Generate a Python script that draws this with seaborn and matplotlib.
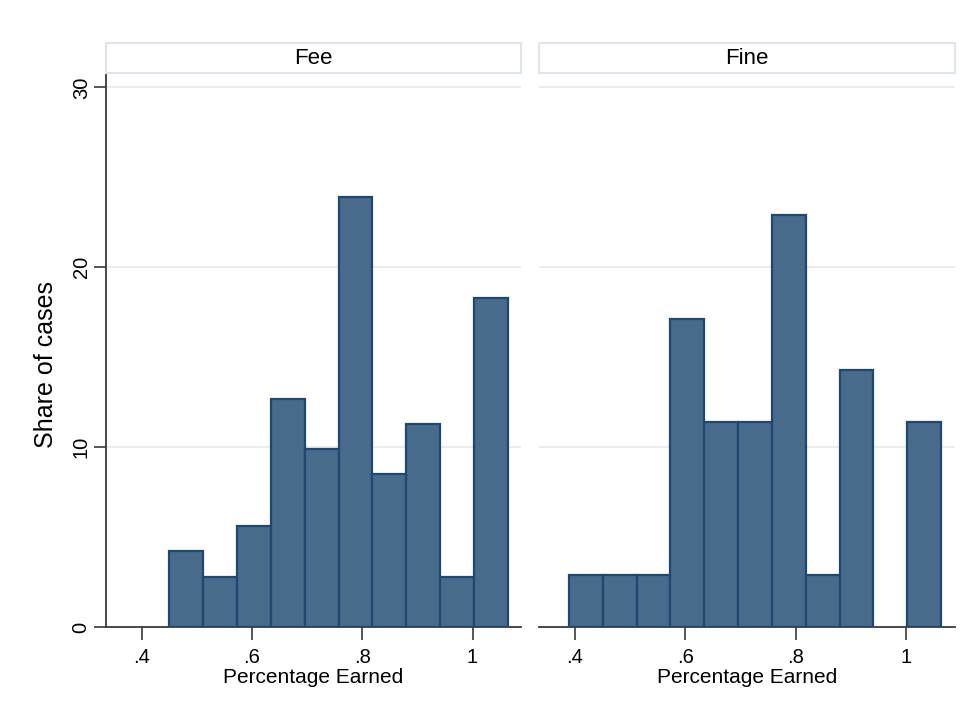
import numpy as np
import pandas as pd
import seaborn as sns
import matplotlib.pyplot as plt
from matplotlib.patches import Rectangle

# Histogram data (percent of cases per bin)
panels = ["Fee", "Fine"]
fee_range = (0.45, 1.064)
fee_pct = [4.2, 2.8, 5.6, 12.7, 9.9, 23.9, 8.5, 11.3, 2.8, 18.3]
fine_range = (0.389, 1.063)
fine_pct = [2.9, 2.9, 2.9, 17.1, 11.4, 11.4, 22.9, 2.9, 14.3, 0.0, 11.4]
xticks = [0.4, 0.6, 0.8, 1.0]
xtick_labels = [".4", ".6", ".8", "1"]
yticks = [0, 10, 20, 30]

sns.set_style("white")
plt.rcParams['font.family'] = ['Liberation Sans', 'DejaVu Sans']
plt.rcParams['text.color'] = 'black'
plt.rcParams['axes.labelcolor'] = 'black'

W, H = 976, 721
fig = plt.figure(figsize=(W / 100, H / 100), dpi=100)

fill = "#486a8b"
edge = "#1f4870"
axis_col = "#3a3a3a"
grid_col = "#e4ebec"


def px_axes(x0, x1, y0, y1):
    return fig.add_axes([x0 / W, 1 - y1 / H, (x1 - x0) / W, (y1 - y0) / H])


axes = [px_axes(106, 521, 73, 627), px_axes(539, 955, 73, 627)]
data = [(fee_range, fee_pct), (fine_range, fine_pct)]

for i, (ax, name, (rng, pct)) in enumerate(zip(axes, panels, data)):
    edges = np.linspace(rng[0], rng[1], len(pct) + 1)
    df = pd.DataFrame({"center": (edges[:-1] + edges[1:]) / 2, "pct": pct})
    sns.histplot(data=df, x="center", weights="pct", bins=list(edges), ax=ax,
                 color=fill, alpha=1, edgecolor=edge, linewidth=1.6, zorder=3)
    # empty bins draw nothing
    for p in ax.patches:
        if p.get_height() == 0:
            p.set_visible(False)
    ax.set_xlim(0.335, 1.088)
    ax.set_ylim(0, 30.8)
    for y in yticks[1:]:
        ax.axhline(y, color=grid_col, lw=1.2, zorder=1)
    ax.set_xticks(xticks)
    ax.set_xticklabels(xtick_labels, fontsize=14.5, color="black")
    ax.set_xlabel("Percentage Earned", fontsize=15, labelpad=1)
    ax.tick_params(axis="x", length=9, width=1.2, color=axis_col, pad=6,
                   bottom=True)
    for s in ["top", "right"]:
        ax.spines[s].set_visible(False)
    ax.spines["bottom"].set_color(axis_col)
    ax.spines["bottom"].set_linewidth(1.3)
    if i == 0:
        ax.set_yticks(yticks)
        ax.set_yticklabels([str(v) for v in yticks], fontsize=14.5,
                           rotation=90, va="center", color="black")
        ax.tick_params(axis="y", length=9, width=1.2, color=axis_col, pad=2,
                       left=True)
        ax.spines["left"].set_color(axis_col)
        ax.spines["left"].set_linewidth(1.3)
        ax.set_ylabel("Share of cases", fontsize=18)
        ax.yaxis.set_label_coords(-48 / 415, (627 - 365) / 554)
    else:
        ax.set_yticks(yticks)
        ax.set_yticklabels([])
        ax.tick_params(axis="y", length=0)
        ax.spines["left"].set_visible(False)
        ax.set_ylabel("")
    # strip title above each panel
    bb = ax.get_position()
    fig.add_artist(Rectangle((bb.x0, 1 - 73 / H), bb.width, 30 / H,
                             transform=fig.transFigure, facecolor="white",
                             edgecolor="#dde6ee", lw=1.5))
    fig.text(bb.x0 + bb.width / 2, 1 - 58 / H, name, ha="center",
             va="center", fontsize=16)

fig.savefig("out.png", dpi=100)
